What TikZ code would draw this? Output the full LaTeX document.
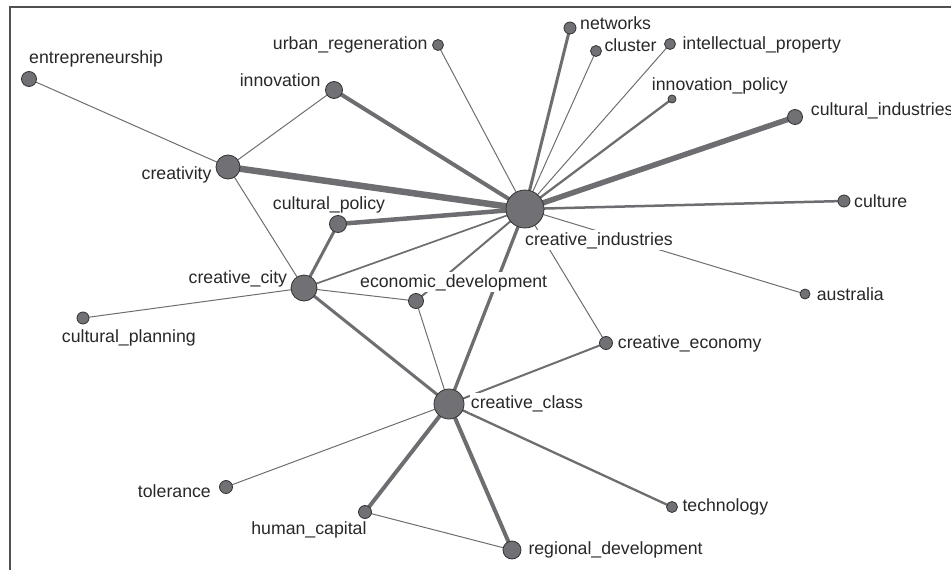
\documentclass[tikz,border=0pt]{standalone}
\usepackage{fontspec}
\setmainfont{Liberation Sans}
\pgfdeclarelayer{edges}
\pgfdeclarelayer{labels}
\pgfsetlayers{edges,labels,main}
\definecolor{nodegray}{RGB}{112,112,117}
\definecolor{edgegray}{RGB}{110,110,114}
\definecolor{txtgray}{RGB}{40,40,40}
\definecolor{framegray}{RGB}{80,80,80}
\begin{document}
\begin{tikzpicture}[x=1pt,y=-1pt,
  dot/.style={circle,inner sep=0pt,draw=black!80,line width=0.8pt,fill=nodegray},
  lbl/.style={fill=white,text=txtgray,inner xsep=1pt,inner ysep=1.5pt,text height=14pt,text depth=3pt,
    font=\fontsize{17.7}{20}\selectfont},
  e/.style={draw=edgegray,line width=#1},
  e/.default=1pt]
\useasboundingbox (0,0) rectangle (951,570);
\draw[framegray,line width=1.7pt] (10,575) -- (10,7) -- (960,7);

% nodes
\node[dot,minimum size=38pt] (ci) at (525,209) {};
\node[dot,minimum size=24pt] (cr) at (228,167) {};
\node[dot,minimum size=17pt] (inn) at (334,90) {};
\node[dot,minimum size=15pt] (ent) at (29,79) {};
\node[dot,minimum size=11pt] (ur) at (438,45) {};
\node[dot,minimum size=17pt] (cp) at (338,224) {};
\node[dot,minimum size=26pt] (cc) at (304,288) {};
\node[dot,minimum size=15pt] (ed) at (416,301) {};
\node[dot,minimum size=12pt] (cpl) at (83,318) {};
\node[dot,minimum size=30pt] (ccl) at (449,404) {};
\node[dot,minimum size=13pt] (tol) at (226,487) {};
\node[dot,minimum size=13pt] (hc) at (365,512) {};
\node[dot,minimum size=18pt] (rd) at (512,550) {};
\node[dot,minimum size=11pt] (tec) at (672,507) {};
\node[dot,minimum size=13pt] (ce) at (606,343) {};
\node[dot,minimum size=10pt] (aus) at (805,294) {};
\node[dot,minimum size=12pt] (cul) at (844,201) {};
\node[dot,minimum size=15pt] (cin) at (795,117) {};
\node[dot,minimum size=8pt] (ip) at (672,99) {};
\node[dot,minimum size=11pt] (ipr) at (670,44) {};
\node[dot,minimum size=11pt] (clu) at (596,51) {};
\node[dot,minimum size=12pt] (net) at (570,28) {};

% edges
\begin{pgfonlayer}{edges}
\draw[e=6.5pt] (ci.center) -- (cr.center);
\draw[e=5.5pt] (ci.center) -- (cin.center);
\draw[e=4pt] (ci.center) -- (inn.center);
\draw[e=4.5pt] (ci.center) -- (cp.center);
\draw[e=3pt] (ci.center) -- (net.center);
\draw[e] (ci.center) -- (clu.center);
\draw[e] (ci.center) -- (ipr.center);
\draw[e=2.3pt] (ci.center) -- (ip.center);
\draw[e=2.5pt] (ci.center) -- (cul.center);
\draw[e] (ci.center) -- (ur.center);
\draw[e] (ci.center) -- (aus.center);
\draw[e] (ci.center) -- (ce.center);
\draw[e=3.3pt] (ci.center) -- (ccl.center);
\draw[e=2pt] (ci.center) -- (ed.center);
\draw[e=1.7pt] (ci.center) -- (cc.center);
\draw[e] (cr.center) -- (ent.center);
\draw[e] (cr.center) -- (inn.center);
\draw[e] (cr.center) -- (cc.center);
\draw[e=3pt] (cc.center) -- (cp.center);
\draw[e] (cc.center) -- (cpl.center);
\draw[e] (cc.center) -- (ed.center);
\draw[e=3pt] (cc.center) -- (ccl.center);
\draw[e] (ed.center) -- (ccl.center);
\draw[e=2pt] (ccl.center) -- (ce.center);
\draw[e] (ccl.center) -- (tol.center);
\draw[e=4pt] (ccl.center) -- (hc.center);
\draw[e=4pt] (ccl.center) -- (rd.center);
\draw[e=2.3pt] (ccl.center) -- (tec.center);
\draw[e] (hc.center) -- (rd.center);
\end{pgfonlayer}

% labels
\begin{pgfonlayer}{labels}
\node[lbl,anchor=base west] (l-ent) at (28,63) {entrepreneurship};
\node[lbl,anchor=base east] (l-ur) at (428.7,49) {urban\_regeneration};
\node[lbl,anchor=base east] (l-inn) at (321.7,86) {innovation};
\node[lbl,anchor=base east] (l-cr) at (212.7,179.3) {creativity};
\node[lbl,anchor=base west] (l-cp) at (271.7,209.3) {cultural\_policy};
\node[lbl,anchor=base east] (l-cc) at (288.3,283.3) {creative\_city};
\node[lbl,anchor=base west] (l-ed) at (359,287.3) {economic\_development};
\node[lbl,anchor=base west] (l-cpl) at (60.7,342.3) {cultural\_planning};
\node[lbl,anchor=base west] (l-ccl) at (469.7,408.3) {creative\_class};
\node[lbl,anchor=base east] (l-tol) at (212,497.3) {tolerance};
\node[lbl,anchor=base east] (l-hc) at (367.7,534.3) {human\_capital};
\node[lbl,anchor=base west] (l-rd) at (527.3,554) {regional\_development};
\node[lbl,anchor=base west] (l-tec) at (681.3,511.7) {technology};
\node[lbl,anchor=base west] (l-ce) at (616.7,348.7) {creative\_economy};
\node[lbl,anchor=base west] (l-aus) at (815.7,300) {australia};
\node[lbl,anchor=base west] (l-cul) at (853,207) {culture};
\node[lbl,anchor=base west] (l-ci) at (524,245.7) {creative\_industries};
\node[lbl,anchor=base west] (l-cin) at (809.7,115) {cultural\_industries};
\node[lbl,anchor=base west] (l-ip) at (650.7,90) {innovation\_policy};
\node[lbl,anchor=base west] (l-ipr) at (681.3,49.3) {intellectual\_property};
\node[lbl,anchor=base west] (l-clu) at (603.3,51.7) {cluster};
\node[lbl,anchor=base west] (l-net) at (579,29) {networks};
\end{pgfonlayer}
\end{tikzpicture}
\end{document}
